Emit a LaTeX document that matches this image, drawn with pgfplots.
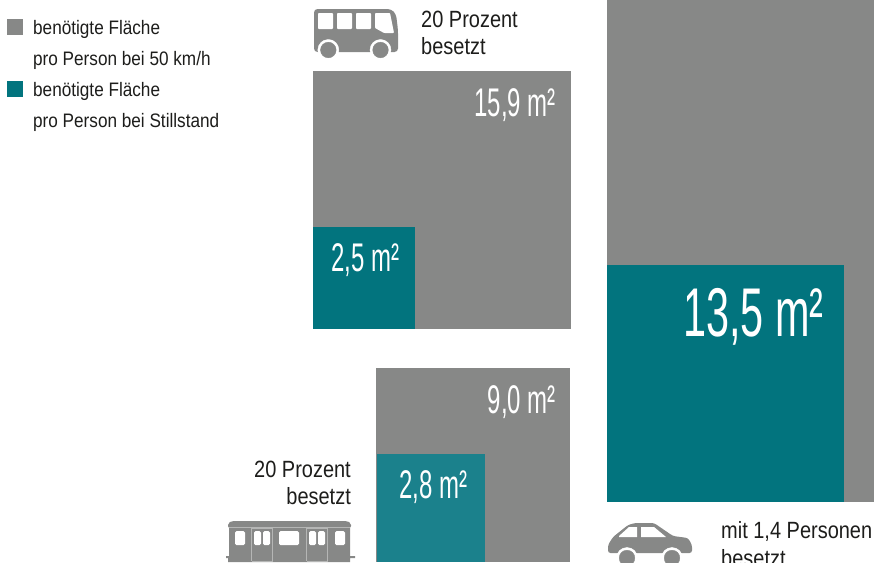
\documentclass[border=0pt]{standalone}
\usepackage{fontspec}
\usepackage{pgfplots}
\pgfplotsset{compat=1.18}
\setmainfont{Liberation Sans}
\newfontfamily\legfont[FakeStretch=0.88]{Liberation Sans}
\newfontfamily\labfont[FakeStretch=0.85]{Liberation Sans}
\newfontfamily\valfont[FakeStretch=0.6]{Liberation Sans}
\definecolor{flgrey}{HTML}{878887}
\definecolor{flteal}{HTML}{02747E}
\definecolor{flteallight}{HTML}{1B818C}
\definecolor{txt}{HTML}{1D1D1B}
\definecolor{doorline}{HTML}{B5B6B5}
\tikzset{
  flat/.style={fill=#1, draw=none},
  leg/.style={anchor=base west, inner sep=0pt, text=txt, font=\fontsize{19.5}{19.5}\legfont},
  lab/.style={inner sep=0pt, text=txt, font=\fontsize{23.5}{23.5}\labfont},
  val/.style={inner sep=0pt, text=white, font=\fontsize{40}{40}\valfont},
}
\pgfplotsset{wheel/.style={only marks, mark=*, mark size=#1}}

\begin{document}
\begin{tikzpicture}
\clip (0,0) rectangle (874pt,562pt);
\begin{axis}[
  hide axis, scale only axis, clip=false,
  width=874pt, height=562pt,
  xmin=0, xmax=874, ymin=0, ymax=562,
  y dir=reverse,
]

% legend swatches
\addplot[flat=flgrey] coordinates {(7,19) (23,19) (23,35) (7,35)} --cycle;
\addplot[flat=flteal] coordinates {(7,81) (23,81) (23,97) (7,97)} --cycle;

% big square, car
\addplot[flat=flgrey] coordinates {(607,0) (874,0) (874,502) (607,502)} --cycle;
\addplot[flat=flteal] coordinates {(607,265) (844,265) (844,502) (607,502)} --cycle;

% bus square
\addplot[flat=flgrey] coordinates {(313,71) (571,71) (571,329) (313,329)} --cycle;
\addplot[flat=flteal] coordinates {(313,227) (415,227) (415,329) (313,329)} --cycle;

% train square
\addplot[flat=flgrey] coordinates {(376,368) (570,368) (570,562) (376,562)} --cycle;
\addplot[flat=flteallight] coordinates {(377,454) (485,454) (485,562) (377,562)} --cycle;

% bus icon
\addplot[flat=flgrey, rounded corners=3.5pt] coordinates {(314,9) (391,9) (396,14) (398,30) (398,52) (314,52)} --cycle;
\addplot[flat=white, rounded corners=0.8pt] coordinates {(318,13) (333,13) (333,29) (318,29)} --cycle;
\addplot[flat=white, rounded corners=0.8pt] coordinates {(337,13) (352,13) (352,29) (337,29)} --cycle;
\addplot[flat=white, rounded corners=0.8pt] coordinates {(356,13) (371,13) (371,29) (356,29)} --cycle;
\addplot[flat=white, rounded corners=0.8pt] coordinates {(375,13) (390,13) (394,33) (384,33) (375,28)} --cycle;
\addplot[wheel=10.5, mark options={fill=white, draw=white}] coordinates {(328.3,50) (380.5,50)};
\addplot[wheel=7.8, mark options={fill=flgrey, draw=flgrey}] coordinates {(328.3,50) (380.5,50)};

% train icon
\addplot[flat=flgrey, rounded corners=2pt] coordinates {(228,528) (228,523) (232,521) (347,521) (351,523) (351,528)} --cycle;
\addplot[flat=flgrey] coordinates {(229,528) (350,528) (350,556) (355,556) (355,558) (350,558) (350,562) (228,562) (228,558) (226,558) (226,556) (229,556)} --cycle;
\addplot[doorline, line width=0.5pt] coordinates {(229,527.7) (350,527.7)};
\addplot[flat=white, rounded corners=1.5pt] coordinates {(235,531) (245,531) (245,545) (235,545)} --cycle;
\addplot[flat=white, rounded corners=1.5pt] coordinates {(254,531) (261,531) (261,545) (254,545)} --cycle;
\addplot[flat=white, rounded corners=1.5pt] coordinates {(263,531) (270,531) (270,545) (263,545)} --cycle;
\addplot[flat=white, rounded corners=1.5pt] coordinates {(279,531) (299,531) (299,545) (279,545)} --cycle;
\addplot[flat=white, rounded corners=1.5pt] coordinates {(309,531) (316,531) (316,545) (309,545)} --cycle;
\addplot[flat=white, rounded corners=1.5pt] coordinates {(318,531) (325,531) (325,545) (318,545)} --cycle;
\addplot[flat=white, rounded corners=1.5pt] coordinates {(335,531) (345,531) (345,545) (335,545)} --cycle;
\addplot[doorline, line width=0.6pt] coordinates {(251.5,561) (251.5,528.5) (272.5,528.5) (272.5,561) (251.5,561)};
\addplot[doorline, line width=0.6pt] coordinates {(306.5,561) (306.5,528.5) (327.5,528.5) (327.5,561) (306.5,561)};

% car icon
\addplot[flat=flgrey, rounded corners=2.5pt] coordinates {(608,553) (608,545) (613,537) (628,525) (635,523) (654,523) (673,536) (688,538) (692,545) (692,553)} --cycle;
\addplot[flat=white] coordinates {(619,536) (629,527) (637,527) (637,537) (619,537)} --cycle;
\addplot[flat=white] coordinates {(641,527) (654,527) (666,537) (641,537)} --cycle;
\addplot[wheel=10.5, mark options={fill=white, draw=white}] coordinates {(627,558) (672,558)};
\addplot[wheel=7.8, mark options={fill=flgrey, draw=flgrey}] coordinates {(627,558) (672,558)};

% legend text
\node[leg] at (axis cs:33,34) {benötigte Fläche};
\node[leg] at (axis cs:33,65) {pro Person bei 50 km/h};
\node[leg] at (axis cs:33,96) {benötigte Fläche};
\node[leg] at (axis cs:33,127) {pro Person bei Stillstand};

% mode labels
\node[lab, anchor=base west] at (axis cs:421,27) {20 Prozent};
\node[lab, anchor=base west] at (axis cs:421,54) {besetzt};
\node[lab, anchor=base east] at (axis cs:351,477) {20 Prozent};
\node[lab, anchor=base east] at (axis cs:351,504) {besetzt};
\node[lab, anchor=base west] at (axis cs:721,538) {mit 1,4 Personen};
\node[lab, anchor=base west] at (axis cs:721,566) {besetzt};

% values
\node[val, anchor=base east] at (axis cs:556,116) {15,9 m²};
\node[val, anchor=base west] at (axis cs:331,271) {2,5 m²};
\node[val, anchor=base east] at (axis cs:556,413) {9,0 m²};
\node[val, anchor=base west] at (axis cs:399,498) {2,8 m²};
\node[val, anchor=base west, font=\fontsize{69}{69}\valfont] at (axis cs:683,336) {13,5 m²};
\end{axis}
\end{tikzpicture}
\end{document}
